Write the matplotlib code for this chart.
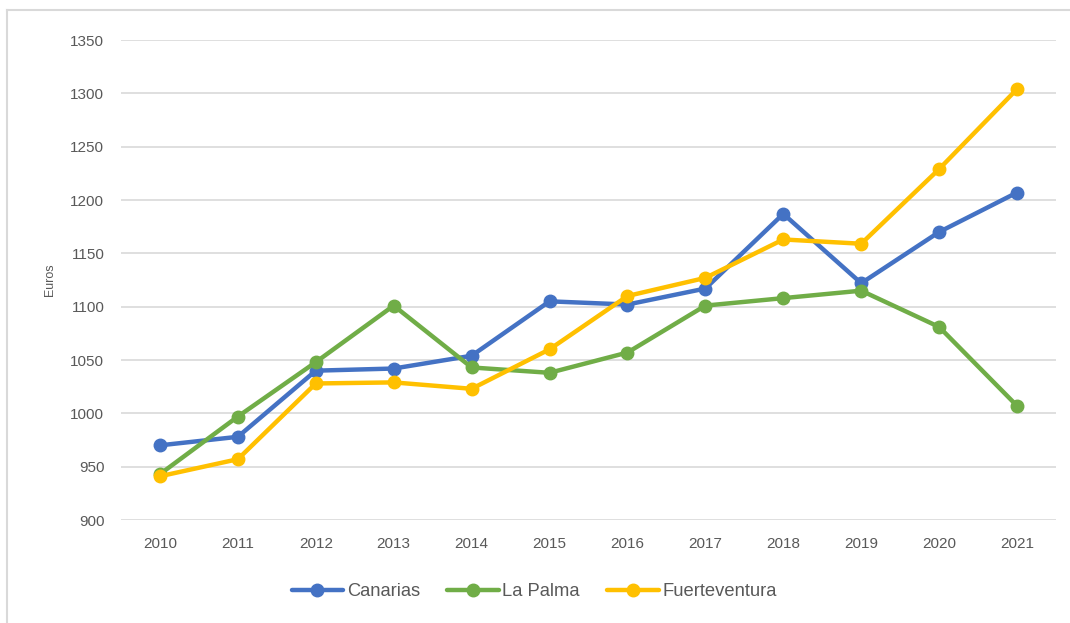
import matplotlib
matplotlib.use("Agg")
import matplotlib.pyplot as plt
from matplotlib.lines import Line2D

plt.rcParams['font.family'] = ['Liberation Sans', 'DejaVu Sans']

# Datos
years = ["2010", "2011", "2012", "2013", "2014", "2015",
         "2016", "2017", "2018", "2019", "2020", "2021"]
canarias = [970, 978, 1040, 1042, 1054, 1105, 1102, 1117, 1187, 1122, 1170, 1207]
la_palma = [943, 997, 1048, 1101, 1043, 1038, 1057, 1101, 1108, 1115, 1081, 1007]
fuerteventura = [941, 957, 1028, 1029, 1023, 1060, 1110, 1127, 1163, 1159, 1229, 1304]

series = [
    ("Canarias", canarias, "#4472C4"),
    ("La Palma", la_palma, "#70AD47"),
    ("Fuerteventura", fuerteventura, "#FFC000"),
]

fig = plt.figure(figsize=(10.7, 6.23), dpi=100)
ax = fig.add_axes([121 / 1070, 1 - 520 / 623, 935 / 1070, 480 / 623])

x = list(range(len(years)))
for name, vals, color in series:
    ax.plot(x, vals, color=color, linewidth=3.2, marker="o", markersize=9,
            label=name, solid_capstyle="round", zorder=3)

ax.set_xlim(-0.5, len(years) - 0.5)
ax.set_ylim(900, 1350)
ax.set_yticks(range(900, 1351, 50))
ax.set_xticks(x)
ax.set_xticklabels(years)
ax.grid(axis="y", color="#D9D9D9", linewidth=1.2)
ax.set_axisbelow(True)
for s in ax.spines.values():
    s.set_visible(False)
ax.tick_params(length=0, labelsize=11, colors="#595959")
ax.tick_params(axis="x", pad=12.5)
ax.tick_params(axis="y", pad=12)
ax.set_ylabel("Euros", fontsize=9, color="#595959", labelpad=10)

ax.legend(loc="upper center", bbox_to_anchor=(0.442, -0.097), ncol=3, frameon=False,
          fontsize=13.2, labelcolor="#595959", handlelength=2.8, columnspacing=1.5,
          handletextpad=0.2)

# borde exterior (solo arriba e izquierda visibles)
fig.add_artist(Line2D([7 / 1070, 7 / 1070], [0, 1 - 10 / 623], color="#D9D9D9",
                      linewidth=1.5, transform=fig.transFigure))
fig.add_artist(Line2D([7 / 1070, 1], [1 - 10 / 623, 1 - 10 / 623], color="#D9D9D9",
                      linewidth=1.5, transform=fig.transFigure))

fig.savefig("out.png", dpi=100)
